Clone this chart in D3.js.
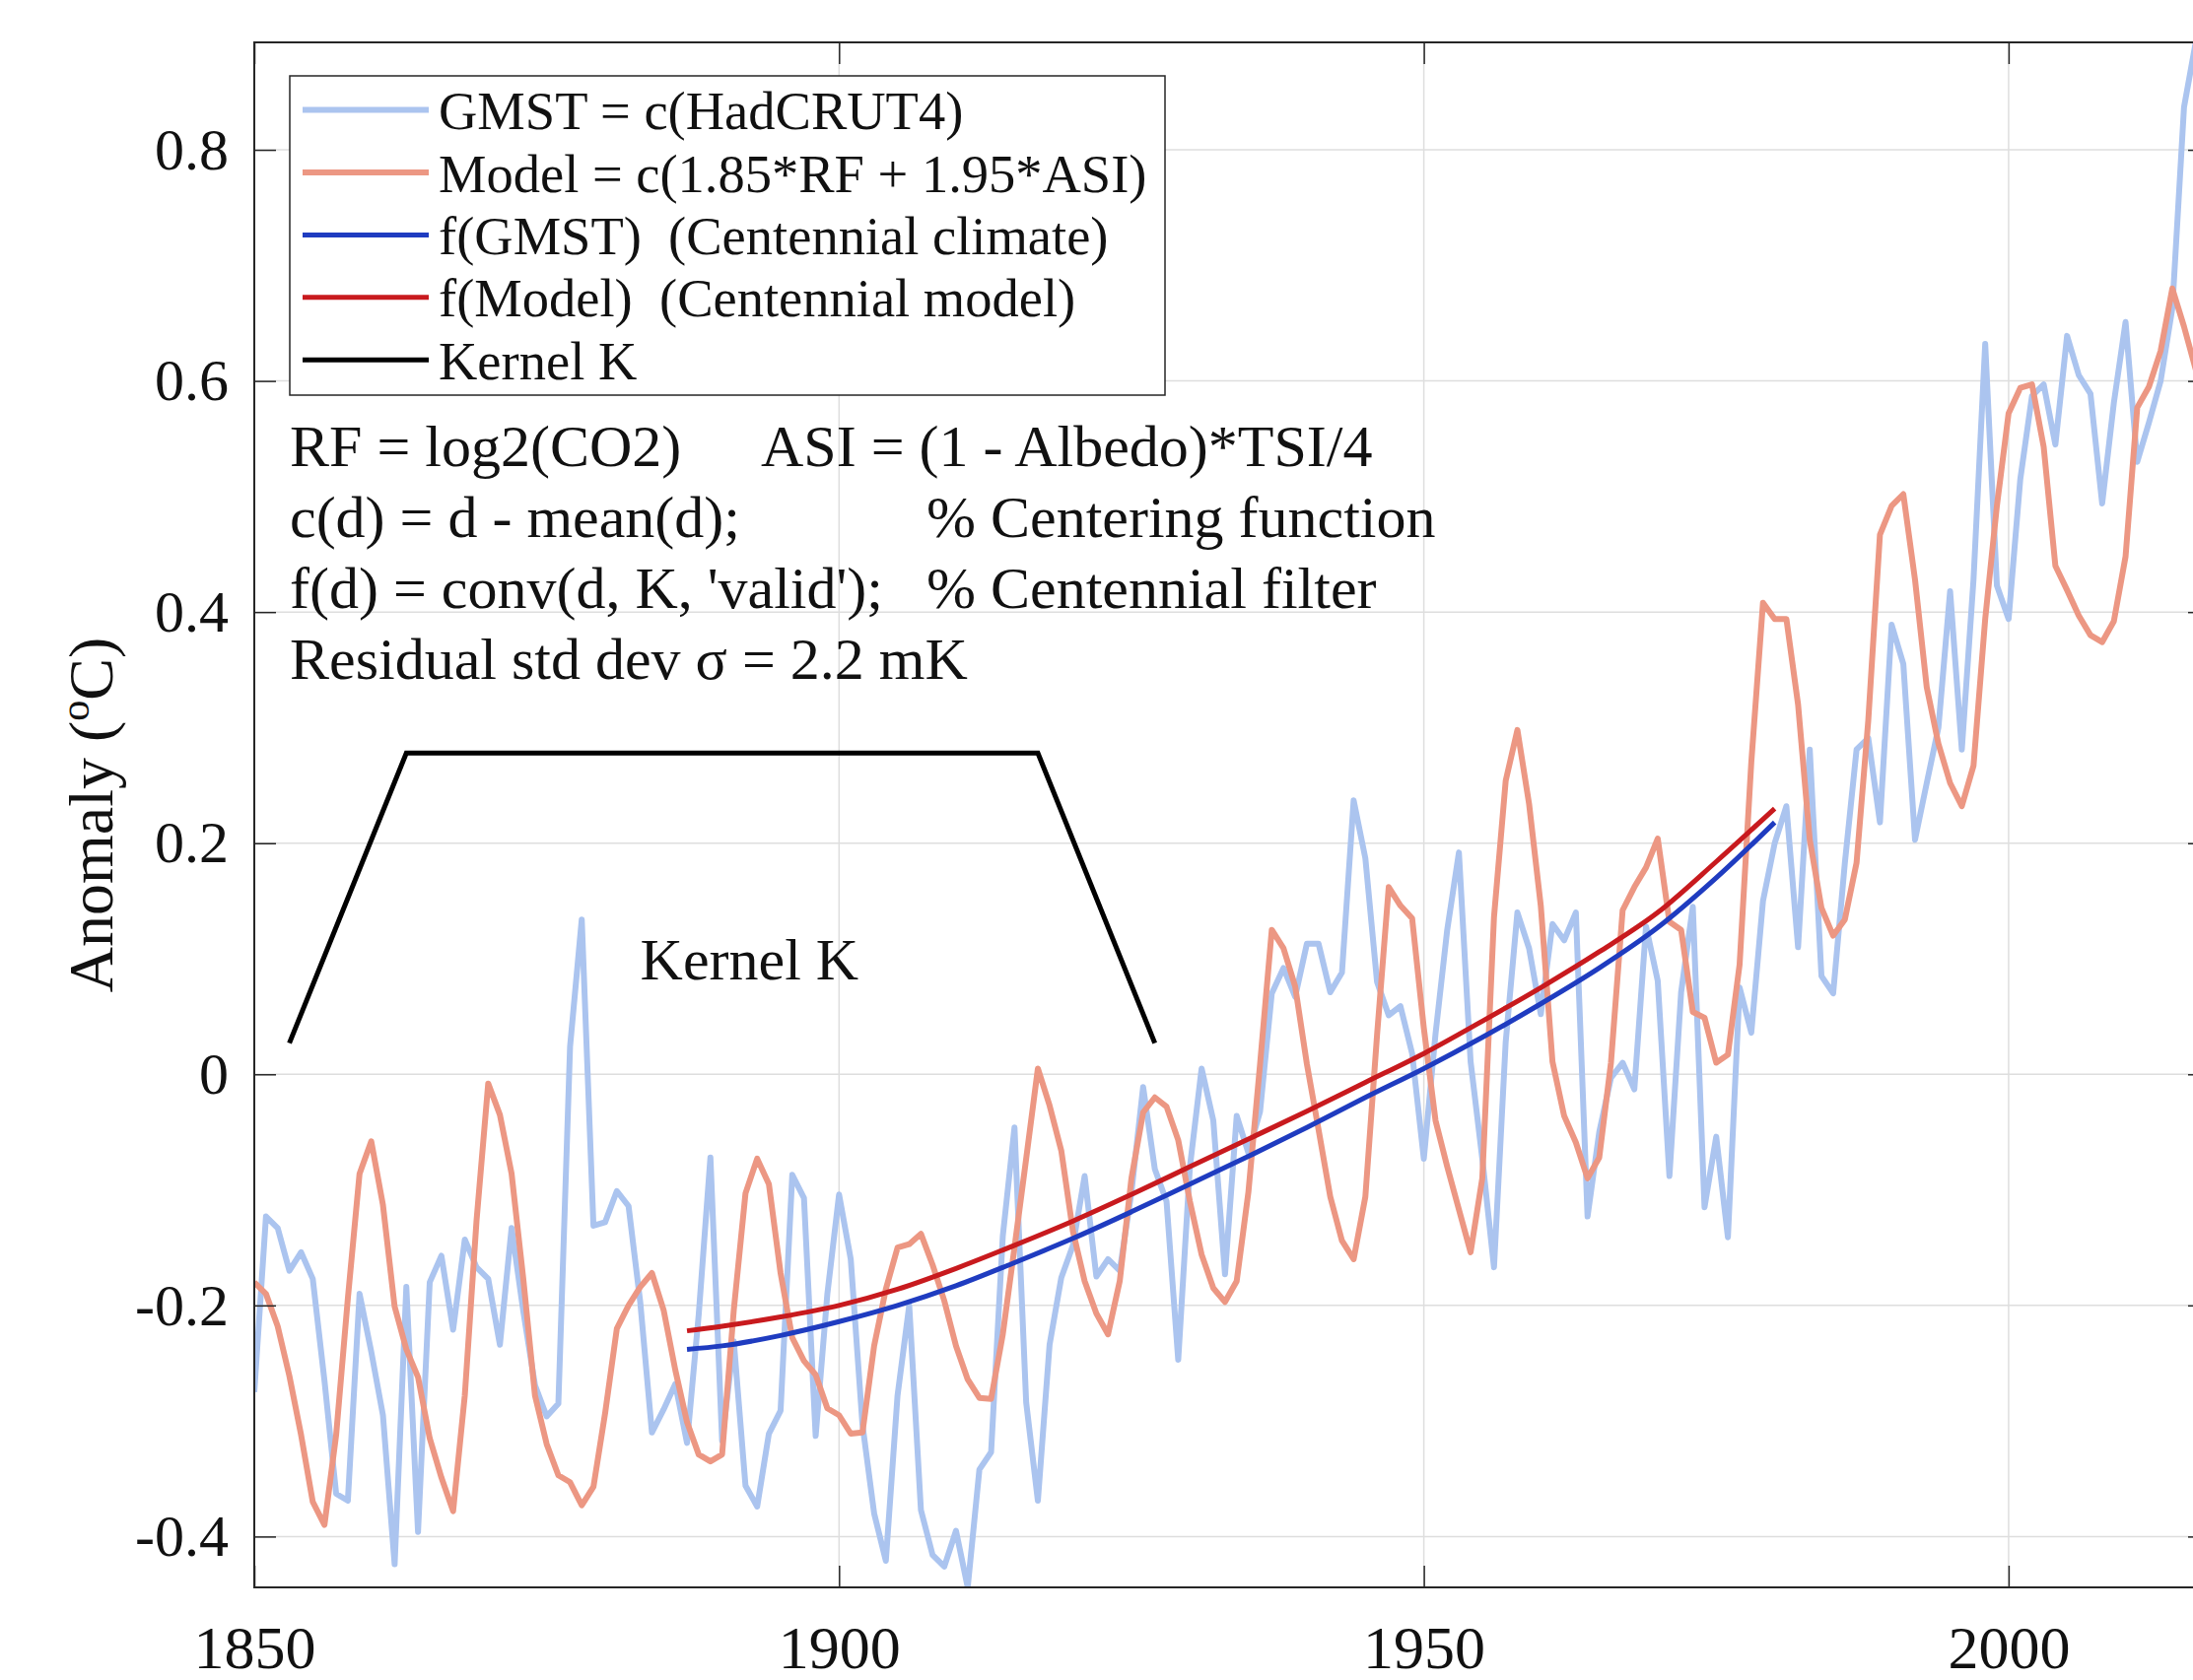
<!DOCTYPE html>
<html lang="en">
<head>
<meta charset="UTF-8">
<title>GMST vs model, centennial filter</title>
<script src="https://cdn.jsdelivr.net/npm/d3@7"></script>
<style>
  body { margin: 0; background: #fff; }
  svg text { font-family: "Liberation Serif", "Times New Roman", serif; fill: #111; white-space: pre; }
</style>
</head>
<body>
<div id="chart"></div>
<script>

// annual series, first value is 1850
const startYear = 1850;

const gmst = [
  -0.275, -0.123, -0.133, -0.170, -0.154, -0.177, -0.265, -0.363, -0.369, -0.190,
  -0.240, -0.295, -0.424, -0.184, -0.396, -0.180, -0.157, -0.221, -0.143, -0.167,
  -0.177, -0.234, -0.133, -0.205, -0.269, -0.296, -0.285, 0.024, 0.134, -0.131,
  -0.128, -0.101, -0.114, -0.197, -0.310, -0.290, -0.268, -0.319, -0.208, -0.072,
  -0.317, -0.231, -0.356, -0.374, -0.311, -0.291, -0.087, -0.107, -0.313, -0.190,
  -0.104, -0.160, -0.303, -0.380, -0.421, -0.278, -0.200, -0.377, -0.416, -0.426,
  -0.395, -0.444, -0.342, -0.327, -0.140, -0.046, -0.284, -0.369, -0.234, -0.176,
  -0.148, -0.088, -0.175, -0.160, -0.170, -0.102, -0.011, -0.082, -0.110, -0.247,
  -0.080, 0.005, -0.040, -0.173, -0.036, -0.068, -0.032, 0.070, 0.092, 0.067,
  0.113, 0.113, 0.071, 0.088, 0.237, 0.187, 0.080, 0.051, 0.059, 0.018,
  -0.073, 0.035, 0.125, 0.192, 0.011, -0.073, -0.167, 0.028, 0.140, 0.109,
  0.052, 0.130, 0.116, 0.140, -0.123, -0.050, -0.003, 0.010, -0.013, 0.128,
  0.081, -0.088, 0.071, 0.145, -0.115, -0.054, -0.141, 0.075, 0.036, 0.150,
  0.200, 0.232, 0.110, 0.281, 0.085, 0.070, 0.183, 0.281, 0.291, 0.218,
  0.389, 0.355, 0.203, 0.252, 0.300, 0.418, 0.281, 0.428, 0.632, 0.423,
  0.394, 0.515, 0.587, 0.597, 0.545, 0.639, 0.605, 0.589, 0.494, 0.581,
  0.651, 0.530, 0.564, 0.600, 0.663, 0.837, 0.893
];

const model = [
  -0.180, -0.190, -0.218, -0.261, -0.312, -0.370, -0.390, -0.312, -0.194, -0.086,
  -0.058, -0.113, -0.201, -0.238, -0.262, -0.315, -0.349, -0.378, -0.278, -0.127,
  -0.008, -0.035, -0.086, -0.177, -0.278, -0.320, -0.347, -0.353, -0.373, -0.357,
  -0.293, -0.220, -0.200, -0.184, -0.172, -0.204, -0.256, -0.301, -0.329, -0.335,
  -0.329, -0.204, -0.103, -0.073, -0.095, -0.172, -0.228, -0.248, -0.260, -0.289,
  -0.295, -0.311, -0.310, -0.235, -0.186, -0.150, -0.147, -0.138, -0.165, -0.196,
  -0.235, -0.264, -0.280, -0.281, -0.225, -0.150, -0.073, 0.005, -0.027, -0.066,
  -0.136, -0.179, -0.207, -0.225, -0.179, -0.090, -0.033, -0.020, -0.028, -0.057,
  -0.110, -0.156, -0.185, -0.197, -0.179, -0.102, 0.009, 0.125, 0.109, 0.076,
  0.009, -0.048, -0.106, -0.144, -0.160, -0.106, 0.034, 0.162, 0.146, 0.135,
  0.040, -0.040, -0.080, -0.117, -0.154, -0.090, 0.136, 0.254, 0.298, 0.234,
  0.146, 0.011, -0.036, -0.059, -0.090, -0.072, 0.010, 0.142, 0.162, 0.179,
  0.204, 0.132, 0.125, 0.054, 0.049, 0.010, 0.017, 0.095, 0.270, 0.408,
  0.394, 0.394, 0.320, 0.203, 0.144, 0.120, 0.134, 0.183, 0.306, 0.467,
  0.492, 0.502, 0.428, 0.335, 0.286, 0.252, 0.232, 0.267, 0.394, 0.492,
  0.572, 0.594, 0.597, 0.543, 0.440, 0.419, 0.397, 0.380, 0.374, 0.392,
  0.448, 0.577, 0.595, 0.626, 0.680, 0.647, 0.610
];

// centennial filtered curves (read every 5 years)
const filtYears = [1887, 1890, 1895, 1900, 1905, 1910, 1915, 1920, 1925, 1930,
                   1935, 1940, 1945, 1950, 1955, 1960, 1965, 1970, 1975, 1980];
const fModel = [-0.222, -0.218, -0.210, -0.200, -0.186, -0.168, -0.148, -0.127, -0.104, -0.080,
                -0.056, -0.032, -0.007, 0.018, 0.046, 0.075, 0.106, 0.140, 0.184, 0.230];
const fGmst = [-0.238, -0.235, -0.226, -0.214, -0.200, -0.183, -0.163, -0.142, -0.119, -0.095,
               -0.071, -0.046, -0.020, 0.005, 0.032, 0.061, 0.092, 0.127, 0.170, 0.218];

// the kernel shape drawn in the plot
const kernelYears = [1853, 1863, 1917, 1927];
const kernelVals = [0.027, 0.278, 0.278, 0.027];

const xTicks = [1850, 1900, 1950, 2000];
const yTicks = [-0.4, -0.2, 0, 0.2, 0.4, 0.6, 0.8];

const legendLabels = ["GMST = c(HadCRUT4)", "Model = c(1.85*RF + 1.95*ASI)",
  "f(GMST)  (Centennial climate)", "f(Model)  (Centennial model)", "Kernel K"];
const legendColors = ["#abc4ef", "#ec9783", "#1f3cc0", "#c81a1e", "#000000"];

// basic layout
const width = 2225, height = 1705;
const plot = {left: 258, right: 2242, top: 43, bottom: 1611};

const svg = d3.select("#chart").append("svg")
    .attr("width", width)
    .attr("height", height);

const x = d3.scaleLinear().domain([1850, 2017.2]).range([plot.left, plot.right]);
const y = d3.scaleLinear().domain(d3.extent(gmst)).range([plot.bottom, plot.top]);

svg.append("clipPath").attr("id", "clip")
  .append("rect")
    .attr("x", plot.left).attr("y", plot.top)
    .attr("width", plot.right - plot.left).attr("height", plot.bottom - plot.top);

// grid
svg.append("g").selectAll("line").data(xTicks).enter().append("line")
    .attr("x1", d => x(d)).attr("x2", d => x(d))
    .attr("y1", plot.top).attr("y2", plot.bottom)
    .style("stroke", "#dedede").style("stroke-width", 1.5);
svg.append("g").selectAll("line").data(yTicks).enter().append("line")
    .attr("x1", plot.left).attr("x2", plot.right)
    .attr("y1", d => y(d)).attr("y2", d => y(d))
    .style("stroke", "#dedede").style("stroke-width", 1.5);

// data lines
const yearly = vals => vals.map((v, i) => [startYear + i, v]);
const line = d3.line().x(d => x(d[0])).y(d => y(d[1]));
const smooth = d3.line().x(d => x(d[0])).y(d => y(d[1])).curve(d3.curveMonotoneX);

const lines = svg.append("g").attr("clip-path", "url(#clip)");

lines.append("path").datum(yearly(gmst))
    .attr("d", line)
    .style("fill", "none").style("stroke", legendColors[0])
    .style("stroke-width", 6).style("stroke-linejoin", "round");

lines.append("path").datum(yearly(model))
    .attr("d", line)
    .style("fill", "none").style("stroke", legendColors[1])
    .style("stroke-width", 6).style("stroke-linejoin", "round");

lines.append("path").datum(filtYears.map((yr, i) => [yr, fGmst[i]]))
    .attr("d", smooth)
    .style("fill", "none").style("stroke", legendColors[2]).style("stroke-width", 5);

lines.append("path").datum(filtYears.map((yr, i) => [yr, fModel[i]]))
    .attr("d", smooth)
    .style("fill", "none").style("stroke", legendColors[3]).style("stroke-width", 5);

lines.append("path").datum(kernelYears.map((yr, i) => [yr, kernelVals[i]]))
    .attr("d", line)
    .style("fill", "none").style("stroke", legendColors[4]).style("stroke-width", 5);

svg.append("text")
    .attr("x", x(1883)).attr("y", y(0.082))
    .attr("font-size", 60)
    .text("Kernel K");

// axes with inward ticks
const tickFmt = d => d === 0 ? "0" : d3.format(".1f")(d).replace("\u2212", "-");

const gx = svg.append("g")
    .attr("transform", "translate(0," + plot.bottom + ")")
    .call(d3.axisBottom(x).tickValues(xTicks).tickFormat(d3.format("d"))
          .tickSize(-22).tickPadding(38));
const gy = svg.append("g")
    .attr("transform", "translate(" + plot.left + ",0)")
    .call(d3.axisLeft(y).tickValues(yTicks).tickFormat(tickFmt)
          .tickSize(-22).tickPadding(26));
const gt = svg.append("g")
    .attr("transform", "translate(0," + plot.top + ")")
    .call(d3.axisTop(x).tickValues(xTicks).tickFormat("").tickSize(-22));
const gr = svg.append("g")
    .attr("transform", "translate(" + plot.right + ",0)")
    .call(d3.axisRight(y).tickValues(yTicks).tickFormat("").tickSize(-22));

[gx, gy, gt, gr].forEach(g => {
  g.attr("color", "#262626").attr("font-size", 60).attr("font-family", null);
  g.select(".domain").remove();
  g.selectAll(".tick line").style("stroke-width", 1.5);
});
gx.selectAll(".tick text").attr("font-size", 62);

svg.append("rect")
    .attr("x", plot.left).attr("y", plot.top)
    .attr("width", plot.right - plot.left).attr("height", plot.bottom - plot.top)
    .style("fill", "none").style("stroke", "#262626").style("stroke-width", 2);

// y label
const ylab = svg.append("text")
    .attr("transform", "translate(114," + (plot.top + plot.bottom) / 2 + ") rotate(-90)")
    .attr("text-anchor", "middle")
    .attr("font-size", 64);
ylab.append("tspan").text("Anomaly (");
ylab.append("tspan").attr("font-size", 42).attr("dy", -24).text("o");
ylab.append("tspan").attr("dy", 24).text("C)");

// legend
const legend = svg.append("g");
legend.append("rect")
    .attr("x", 294).attr("y", 77).attr("width", 888).attr("height", 324)
    .style("fill", "#fff").style("stroke", "#262626").style("stroke-width", 1.5);
const rowY = i => 111.6 + i * 63.4;
legend.selectAll("line").data(legendLabels).enter().append("line")
    .attr("x1", 307).attr("x2", 435)
    .attr("y1", (d, i) => rowY(i)).attr("y2", (d, i) => rowY(i))
    .style("stroke", (d, i) => legendColors[i])
    .style("stroke-width", (d, i) => i < 2 ? 6 : 5);
legend.selectAll("text").data(legendLabels).enter().append("text")
    .attr("x", 445).attr("y", (d, i) => rowY(i) + 19.5)
    .attr("font-size", 54.5)
    .text(d => d);

// formula notes
const notes = [
  {x: 294, y: 473, t: "RF = log2(CO2)"},
  {x: 772, y: 473, t: "ASI = (1 - Albedo)*TSI/4"},
  {x: 294, y: 545, t: "c(d) = d - mean(d);"},
  {x: 940, y: 545, t: "% Centering function"},
  {x: 294, y: 617, t: "f(d) = conv(d, K, 'valid');"},
  {x: 940, y: 617, t: "% Centennial filter"},
  {x: 294, y: 689, t: "Residual std dev \u03c3 = 2.2 mK"}
];
svg.append("g").selectAll("text").data(notes).enter().append("text")
    .attr("x", d => d.x).attr("y", d => d.y)
    .attr("font-size", 60)
    .text(d => d.t);

</script>
</body>
</html>
